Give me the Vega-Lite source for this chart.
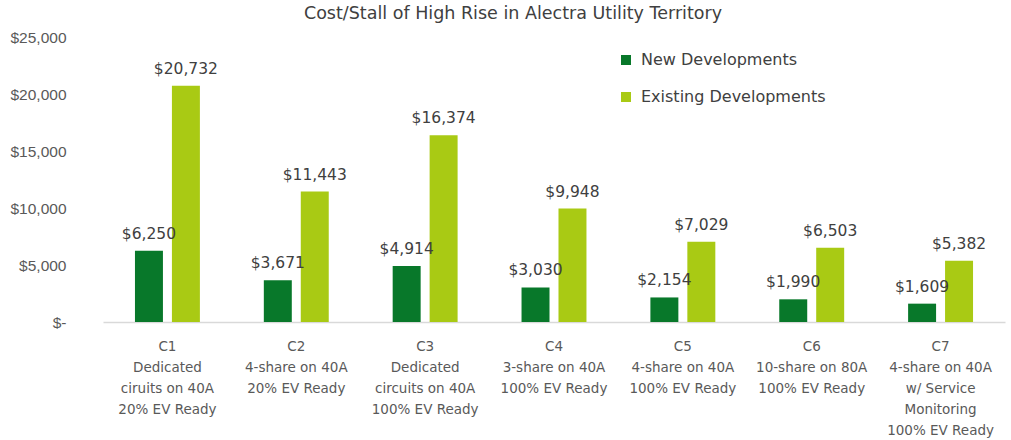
{
  "$schema": "https://vega.github.io/schema/vega-lite/v6.json",
  "width": 902,
  "height": 285,
  "autosize": "none",
  "padding": {"left": 103, "top": 37, "right": 6, "bottom": 118},
  "background": "white",
  "title": {
    "text": "Cost/Stall of High Rise in Alectra Utility Territory",
    "font": "DejaVu Sans",
    "fontSize": 17.5,
    "fontWeight": "normal",
    "color": "#404040",
    "anchor": "middle",
    "dx": -41,
    "offset": 8
  },
  "config": {
    "view": {"stroke": null},
    "font": "DejaVu Sans"
  },
  "data": {
    "values": [
      {"cat": "C1|Dedicated|ciruits on 40A|20% EV Ready", "series": "New Developments", "value": 6250},
      {"cat": "C1|Dedicated|ciruits on 40A|20% EV Ready", "series": "Existing Developments", "value": 20732},
      {"cat": "C2|4-share on 40A|20% EV Ready", "series": "New Developments", "value": 3671},
      {"cat": "C2|4-share on 40A|20% EV Ready", "series": "Existing Developments", "value": 11443},
      {"cat": "C3|Dedicated|circuits on 40A|100% EV Ready", "series": "New Developments", "value": 4914},
      {"cat": "C3|Dedicated|circuits on 40A|100% EV Ready", "series": "Existing Developments", "value": 16374},
      {"cat": "C4|3-share on 40A|100% EV Ready", "series": "New Developments", "value": 3030},
      {"cat": "C4|3-share on 40A|100% EV Ready", "series": "Existing Developments", "value": 9948},
      {"cat": "C5|4-share on 40A|100% EV Ready", "series": "New Developments", "value": 2154},
      {"cat": "C5|4-share on 40A|100% EV Ready", "series": "Existing Developments", "value": 7029},
      {"cat": "C6|10-share on 80A|100% EV Ready", "series": "New Developments", "value": 1990},
      {"cat": "C6|10-share on 80A|100% EV Ready", "series": "Existing Developments", "value": 6503},
      {"cat": "C7|4-share on 40A|w/ Service|Monitoring|100% EV Ready", "series": "New Developments", "value": 1609},
      {"cat": "C7|4-share on 40A|w/ Service|Monitoring|100% EV Ready", "series": "Existing Developments", "value": 5382}
    ]
  },
  "encoding": {
    "x": {
      "field": "cat",
      "type": "nominal",
      "sort": null,
      "title": null,
      "scale": {"paddingInner": 0, "paddingOuter": 0},
      "axis": {
        "labelAngle": 0,
        "labelExpr": "split(datum.label, '|')",
        "labelFont": "DejaVu Sans",
        "labelFontSize": 13.5,
        "labelLineHeight": 21,
        "labelColor": "#595959",
        "labelPadding": 17,
        "labelBaseline": "top",
        "labelLimit": 200,
        "ticks": false,
        "domainColor": "#d9d9d9",
        "domainWidth": 1.5
      }
    },
    "xOffset": {
      "field": "series",
      "type": "nominal",
      "sort": ["New Developments", "Existing Developments"],
      "scale": {"paddingInner": 0.243, "paddingOuter": 0.865}
    },
    "y": {
      "field": "value",
      "type": "quantitative",
      "title": null,
      "scale": {"domain": [0, 25000]},
      "axis": {
        "values": [0, 5000, 10000, 15000, 20000, 25000],
        "labelExpr": "datum.value == 0 ? '$-' : '$' + format(datum.value, ',')",
        "labelFont": "Liberation Sans",
        "labelFontSize": 15.5,
        "labelColor": "#595959",
        "labelPadding": 37,
        "ticks": false,
        "domain": false,
        "grid": false
      }
    }
  },
  "layer": [
    {
      "mark": {"type": "bar"},
      "encoding": {
        "color": {
          "field": "series",
          "type": "nominal",
          "sort": ["New Developments", "Existing Developments"],
          "scale": {"domain": ["New Developments", "Existing Developments"], "range": ["#08782a", "#a9ca14"]},
          "legend": {
            "title": null,
            "orient": "none",
            "legendX": 515,
            "legendY": 15,
            "symbolType": "square",
            "symbolSize": 100,
            "symbolStrokeWidth": 0,
            "labelFont": "DejaVu Sans",
            "labelFontSize": 16,
            "labelLimit": 400,
            "labelColor": "#404040",
            "labelOffset": 7,
            "rowPadding": 21
          }
        }
      }
    },
    {
      "mark": {"type": "text", "baseline": "bottom", "dy": -9, "fontSize": 15.5, "font": "DejaVu Sans", "color": "#404040"},
      "encoding": {
        "text": {"field": "value", "type": "quantitative", "format": "$,"}
      }
    }
  ]
}
